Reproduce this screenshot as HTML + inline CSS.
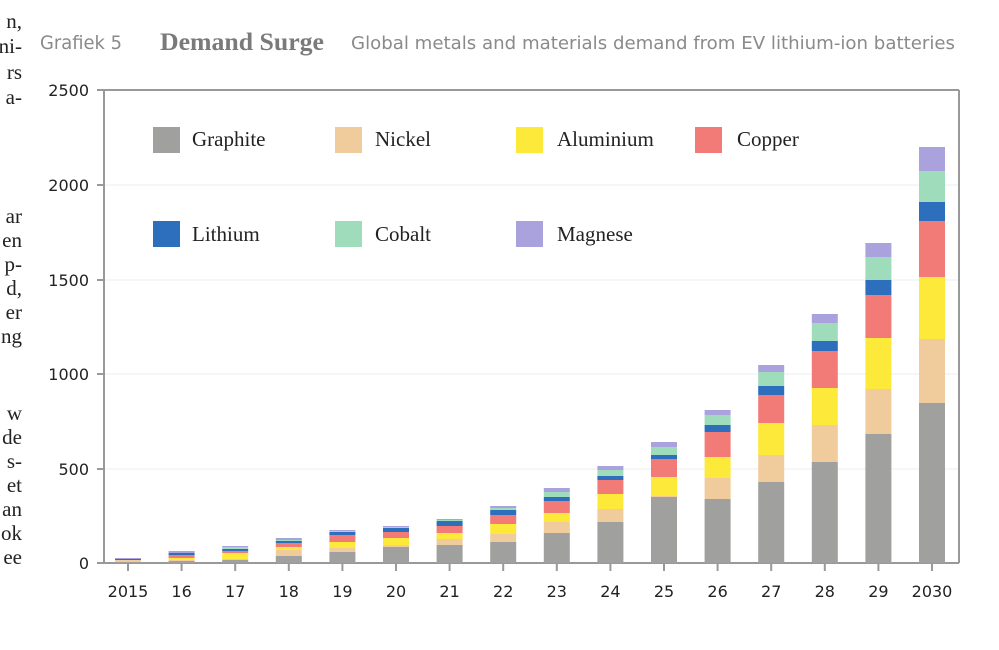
<!DOCTYPE html>
<html><head><meta charset="utf-8"><style>
html,body{margin:0;padding:0;background:#fff;width:999px;height:650px;overflow:hidden}
svg{display:block}
</style></head><body>
<svg width="999" height="650" viewBox="0 0 999 650" xmlns="http://www.w3.org/2000/svg">
<rect width="999" height="650" fill="#fff"/>
<g font-family="Liberation Serif, serif" font-size="21" fill="#222" text-anchor="end">
<text x="22" y="28">n,</text><text x="22" y="53">ni-</text><text x="22" y="79">rs</text><text x="22" y="104">a-</text>
<text x="22" y="223">ar</text><text x="22" y="247">en</text><text x="22" y="271">p-</text><text x="22" y="295">d,</text><text x="22" y="319">er</text><text x="22" y="343">ng</text>
<text x="22" y="420">w</text><text x="22" y="444">de</text><text x="22" y="468">s-</text><text x="22" y="492">et</text><text x="22" y="516">an</text><text x="22" y="540">ok</text><text x="22" y="564">ee</text>
</g>
<text x="40" y="49" font-family="DejaVu Sans, Liberation Sans, sans-serif" font-size="19" fill="#8a8a8a" textLength="82" lengthAdjust="spacingAndGlyphs">Grafiek 5</text>
<text x="160" y="50" font-family="Liberation Serif, serif" font-size="25" font-weight="bold" fill="#7a7a7a" textLength="164" lengthAdjust="spacingAndGlyphs">Demand Surge</text>
<text x="351" y="49" font-family="DejaVu Sans, Liberation Sans, sans-serif" font-size="18" fill="#8a8a8a" textLength="604" lengthAdjust="spacingAndGlyphs">Global metals and materials demand from EV lithium-ion batteries</text>
<g stroke="#eee" stroke-width="1">
<line x1="98" y1="185" x2="958" y2="185"/><line x1="98" y1="280" x2="958" y2="280"/><line x1="98" y1="374" x2="958" y2="374"/><line x1="98" y1="469" x2="958" y2="469"/>
</g>
<g stroke="#999" stroke-width="2" fill="none">
<line x1="97" y1="90" x2="959" y2="90"/><line x1="104" y1="90" x2="104" y2="563"/><line x1="959" y1="90" x2="959" y2="563"/><line x1="97" y1="563" x2="959" y2="563"/>
<line x1="97" y1="185" x2="104" y2="185"/><line x1="97" y1="280" x2="104" y2="280"/><line x1="97" y1="374" x2="104" y2="374"/><line x1="97" y1="469" x2="104" y2="469"/>
</g>
<g font-family="DejaVu Sans, Liberation Sans, sans-serif" font-size="16" fill="#222" text-anchor="end">
<text x="89" y="96">2500</text><text x="89" y="191">2000</text><text x="89" y="286">1500</text><text x="89" y="380">1000</text><text x="89" y="475">500</text><text x="89" y="569">0</text>
</g>
<g id="bars"></g>
<g id="ticks" stroke="#999" stroke-width="2"></g>
<g id="labels" font-family="DejaVu Sans, Liberation Sans, sans-serif" font-size="16" fill="#222" text-anchor="middle"></g>
<g font-family="Liberation Serif, serif" font-size="21" fill="#222">
<rect x="153" y="127" width="27" height="26" fill="#a0a09e"/><text x="192" y="146">Graphite</text>
<rect x="335" y="127" width="27" height="26" fill="#f0cc9c"/><text x="375" y="146">Nickel</text>
<rect x="516" y="127" width="27" height="26" fill="#fde93a"/><text x="557" y="146">Aluminium</text>
<rect x="695" y="127" width="27" height="26" fill="#f27a77"/><text x="737" y="146">Copper</text>
<rect x="153" y="221" width="27" height="26" fill="#2e6fbd"/><text x="192" y="241">Lithium</text>
<rect x="335" y="221" width="27" height="26" fill="#9fdcbc"/><text x="375" y="241">Cobalt</text>
<rect x="516" y="221" width="27" height="26" fill="#a9a2dc"/><text x="557" y="241">Magnese</text>
</g>
</svg>
<script>
var cols=["#a9a2dc","#9fdcbc","#2e6fbd","#f27a77","#fde93a","#f0cc9c","#a0a09e"];
var d=[
[558,559,559,560,560,560,562],
[551,553,553,555,558,560,561],
[546,547,549,551,553,559,560],
[538,540,541,543,547,550,556],
[530,531,532,535,542,548,552],
[526,527,528,532,538,545,547],
[519,520,521,526,533,539,545],
[506,508,510,515,524,534,542],
[488,492,497,501,513,522,533],
[466,470,476,480,494,509,522],
[442,447,455,459,477,496,497],
[410,415,425,432,457,478,499],
[365,372,386,395,423,455,482],
[314,323,341,351,388,425,462],
[243,257,280,295,338,389,434],
[147,171,202,221,277,339,403]];
var labs=["2015","16","17","18","19","20","21","22","23","24","25","26","27","28","29","2030"];
var ns="http://www.w3.org/2000/svg";
var B=document.getElementById("bars"),T=document.getElementById("ticks"),L=document.getElementById("labels");
for(var i=0;i<16;i++){var cx=128+i*53.6;var b=d[i].concat([563]);
for(var k=0;k<7;k++){var h=b[k+1]-b[k];if(h<=0)continue;var r=document.createElementNS(ns,"rect");
r.setAttribute("x",cx-13);r.setAttribute("y",b[k]);r.setAttribute("width",26);r.setAttribute("height",h);r.setAttribute("fill",cols[k]);B.appendChild(r);}
var t=document.createElementNS(ns,"line");t.setAttribute("x1",cx);t.setAttribute("x2",cx);t.setAttribute("y1",563);t.setAttribute("y2",571);T.appendChild(t);
var tx=document.createElementNS(ns,"text");tx.setAttribute("x",cx);tx.setAttribute("y",597);tx.textContent=labs[i];L.appendChild(tx);}
</script>
</body></html>
